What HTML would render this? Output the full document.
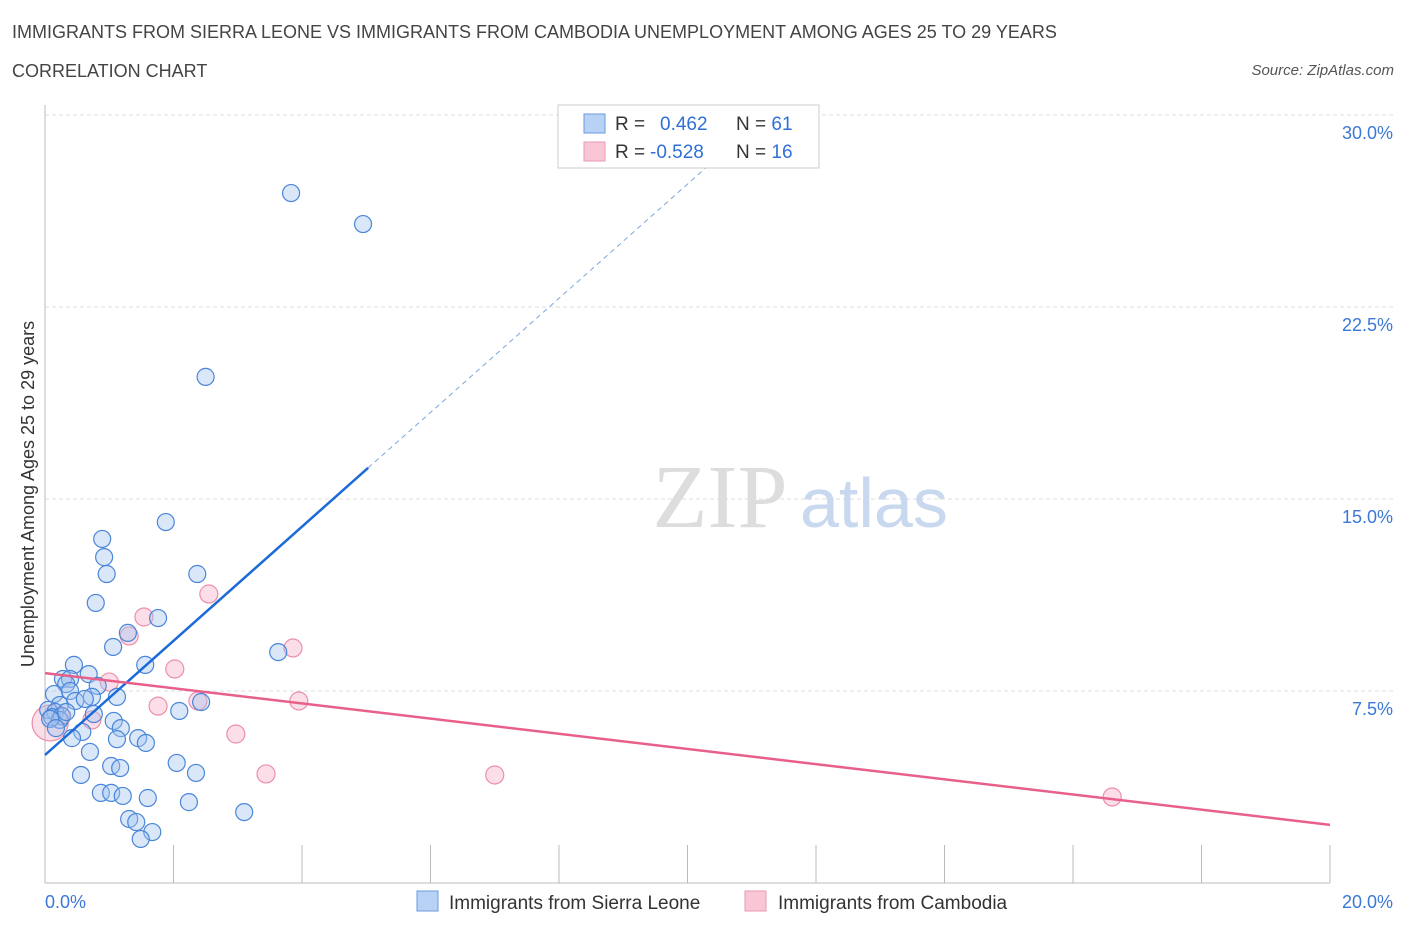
<!DOCTYPE html>
<html><head><meta charset="utf-8"><style>
body{margin:0;background:#fff;font-family:"Liberation Sans",sans-serif;}
.t{position:absolute;color:#333;}
</style></head><body>
<div style="position:relative;width:1406px;height:930px;overflow:hidden">
<div class="t" style="left:12px;top:22px;font-size:18px;color:#444">IMMIGRANTS FROM SIERRA LEONE VS IMMIGRANTS FROM CAMBODIA UNEMPLOYMENT AMONG AGES 25 TO 29 YEARS</div>
<div class="t" style="left:12px;top:61px;font-size:18px;color:#444">CORRELATION CHART</div>
<div class="t" style="right:12px;top:62px;font-size:15px;font-style:italic;color:#555">Source: ZipAtlas.com</div>
<svg id="c" width="1406" height="930" style="position:absolute;left:0;top:0"></svg>
</div>
<script>
const blueX=[];const blueY=[];
const bluePx=[[291,193],[363,224],[206,377],[166,522],[102,539],[104,557],[107,574],[197,574],[96,603],[158,618],[128,633],[113,647],[278,652],[145,665],[74,665],[89,674],[63,679],[70,679],[66,684],[98,686],[54,694],[70,691],[92,697],[75,701],[117,697],[201,702],[179,711],[60,705],[48,710],[55,712],[94,714],[52,717],[62,716],[114,721],[121,728],[82,732],[72,738],[117,739],[138,738],[146,743],[90,752],[177,763],[111,766],[120,768],[81,775],[196,773],[101,793],[111,793],[123,796],[148,798],[189,802],[244,812],[129,819],[136,822],[152,832],[141,839],[60,719],[50,718],[85,700],[66,712],[56,728]];
</script>
<script>
// data values (percent)
const sierraX=[3.83,4.95,2.50,1.88,0.89,0.92,0.96,2.37,0.79,1.76,1.29,1.06,3.63,1.56,0.45,0.68,0.28,0.39,0.33,0.82,0.14,0.39,0.73,0.47,1.12,2.43,2.09,0.23,0.05,0.16,0.76,0.11,0.26,1.07,1.18,0.58,0.42,1.12,1.45,1.57,0.70,2.05,1.03,1.17,0.56,2.35,0.87,1.03,1.21,1.60,2.24,3.10,1.31,1.42,1.67,1.49,0.23,0.08,0.62,0.33,0.17];
const sierraY=[26.95,25.74,19.77,14.10,13.44,12.73,12.07,12.07,10.94,10.35,9.77,9.22,9.02,8.52,8.52,8.16,7.97,7.97,7.77,7.70,7.38,7.50,7.27,7.11,7.27,7.07,6.72,6.95,6.76,6.68,6.60,6.48,6.52,6.33,6.05,5.90,5.66,5.62,5.66,5.47,5.12,4.69,4.57,4.49,4.22,4.30,3.52,3.52,3.40,3.32,3.16,2.77,2.50,2.38,1.99,1.72,6.37,6.41,7.19,6.68,6.05];
const cambodiaX=[2.55,1.54,1.31,3.86,2.02,1.00,3.95,2.38,1.76,2.97,3.44,7.00,16.61,0.73,0.26,0.08];
const cambodiaY=[11.29,10.39,9.65,9.18,8.36,7.85,7.11,7.11,6.91,5.82,4.26,4.22,3.36,6.37,6.52,6.25];
const cambodiaR=[9,9,9,9,9,9,9,9,9,9,9,9,9,9,9,18];
const xTicks=[0,20];const yTicks=[7.5,15,22.5,30];
const blueTrend=[5.0,2.23];const pinkTrend=[8.2,-0.2965];
const sx=v=>45+v/20*1285, sy=v=>883-v/7.5*192;
const svg=document.getElementById('c');const NS='http://www.w3.org/2000/svg';
function mk(t,a,p){const e=document.createElementNS(NS,t);for(const k in a)e.setAttribute(k,a[k]);(p||svg).appendChild(e);return e;}
yTicks.forEach(v=>{const l=mk('line',{x1:45,x2:1395,y1:sy(v),y2:sy(v),stroke:'#ddd','stroke-dasharray':'4 3'});

const t=mk('text',{x:1393,y:sy(v)+24,'text-anchor':'end','font-size':18,fill:'#3b78d8','font-family':'Liberation Sans'});t.textContent=v.toFixed(1)+'%';
});
const ax=mk('line',{x1:45,x2:1330,y1:883,y2:883,stroke:'#bbb'});
const ay=mk('line',{x1:45,x2:45,y1:105,y2:883,stroke:'#bbb'});
for(let i=1;i<=10;i++){const l=mk('line',{x1:45+i*128.5,x2:45+i*128.5,y1:845,y2:883,stroke:'#bbb'});}
xTicks.forEach((v,i)=>{const t=mk('text',{x:i?1393:45,y:908,'text-anchor':i?'end':'start','font-size':18,fill:'#3b78d8','font-family':'Liberation Sans'});t.textContent=v.toFixed(1)+'%';
});
const wm=mk('text',{x:720,y:527,'text-anchor':'middle','font-size':90,'font-family':'Liberation Serif',fill:'#ddd'});wm.textContent='ZIP';

const wm2=mk('text',{x:800,y:527,'font-size':70,'font-family':'Liberation Sans',fill:'#c8d8ee'});wm2.textContent='atlas';

const yt=mk('text',{transform:'translate(34,494) rotate(-90)','text-anchor':'middle','font-size':18,fill:'#333','font-family':'Liberation Sans'});yt.textContent='Unemployment Among Ages 25 to 29 years';

cambodiaX.forEach((x,i)=>{const c=mk('circle',{cx:sx(x),cy:sy(cambodiaY[i]),r:cambodiaR[i],fill:'rgba(244,160,185,0.35)',stroke:'#ec8fab','stroke-width':1.2});
});
sierraX.forEach((x,i)=>{const c=mk('circle',{cx:sx(x),cy:sy(sierraY[i]),r:8.5,fill:'rgba(160,196,240,0.4)',stroke:'#4a86d8','stroke-width':1.2});
});
const b1=mk('line',{x1:sx(0),y1:sy(blueTrend[0]),x2:sx(5.03),y2:sy(blueTrend[0]+blueTrend[1]*5.03),stroke:'#1a6ad8','stroke-width':2.5});

const xe=(30-blueTrend[0])/blueTrend[1];
const b2=mk('line',{x1:sx(5.03),y1:sy(blueTrend[0]+blueTrend[1]*5.03),x2:sx(xe),y2:sy(30),stroke:'#7aa6e0','stroke-width':1,'stroke-dasharray':'5 4'});

const p1=mk('line',{x1:sx(0),y1:sy(pinkTrend[0]),x2:sx(20),y2:sy(pinkTrend[0]+pinkTrend[1]*20),stroke:'#e8608a','stroke-width':2.5});

// legend box
const g=mk('g',{});
mk('rect',{x:558,y:105,width:261,height:63,fill:'#fff',stroke:'#ccc'},g);
mk('rect',{x:584,y:114,width:21,height:19,fill:'#b8d2f5',stroke:'#6a9ae0'},g);
mk('rect',{x:584,y:142,width:21,height:19,fill:'#f9c6d5',stroke:'#ea9ab2'},g);
[['R = ','0.462','61',130],['R = ','-0.528','16',158]].forEach(r=>{
const t=mk('text',{x:615,y:r[3],'font-size':19,fill:'#333','font-family':'Liberation Sans'},g);
t.innerHTML=r[0]+'<tspan fill="#2f6fd6" x="'+(r[1][0]=='-'?650:660)+'">'+r[1]+'</tspan><tspan x="736">N = </tspan><tspan fill="#2f6fd6">'+r[2]+'</tspan>';});
// bottom legend
const lg=mk('g',{});
mk('rect',{x:417,y:891,width:21,height:20,fill:'#b8d2f5',stroke:'#6a9ae0'},lg);
let t1=mk('text',{x:449,y:909,'font-size':19,fill:'#333','font-family':'Liberation Sans'},lg);t1.textContent='Immigrants from Sierra Leone';
mk('rect',{x:745,y:891,width:21,height:20,fill:'#f9c6d5',stroke:'#ea9ab2'},lg);
let t2=mk('text',{x:778,y:909,'font-size':19,fill:'#333','font-family':'Liberation Sans'},lg);t2.textContent='Immigrants from Cambodia';
</script>
</body></html>
